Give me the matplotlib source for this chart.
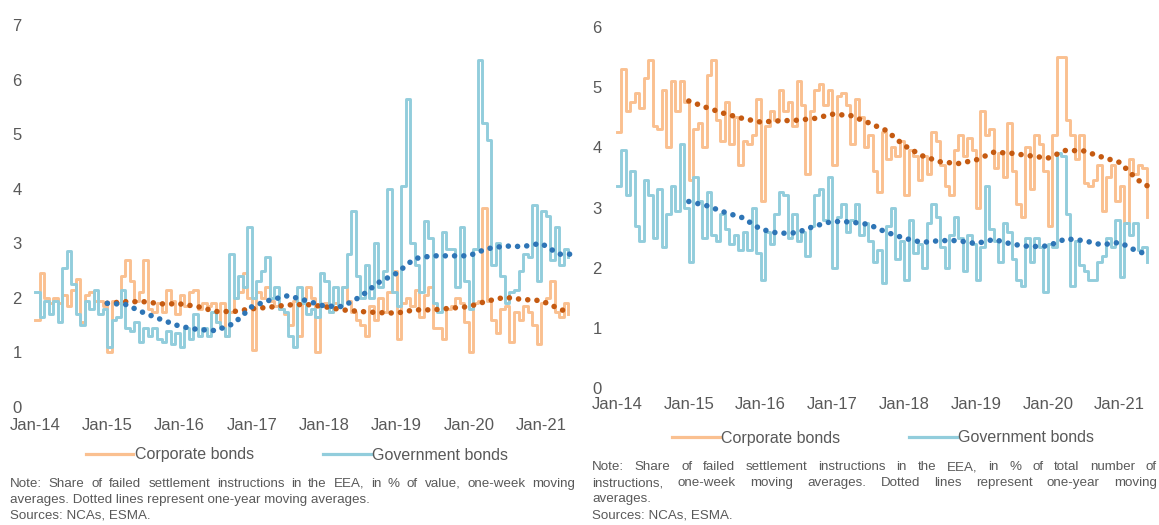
import numpy as np
import matplotlib.pyplot as plt
from matplotlib.lines import Line2D

plt.rcParams['font.family'] = ['Liberation Sans', 'DejaVu Sans']

W, H = 1159, 525

TICK_LABELS = ['Jan-14', 'Jan-15', 'Jan-16', 'Jan-17', 'Jan-18', 'Jan-19', 'Jan-20', 'Jan-21']
STEP = 1 / 16  # years between two readings of the one-week series

# left panel: % of value
corp_value = [1.6, 2.45, 2.0, 1.9, 2.0, 1.9, 2.05, 1.85, 2.15, 2.35,
              1.55, 2.05, 2.1, 1.95, 1.95, 1.85, 1.0, 1.95, 1.9, 2.4,
              2.7, 2.3, 1.95, 2.1, 2.7, 1.8, 1.75, 1.9, 1.75, 2.15,
              1.95, 1.7, 2.05, 1.85, 2.1, 2.15, 1.8, 1.9, 1.85, 1.9,
              1.55, 1.9, 1.3, 1.75, 2.0, 2.1, 2.45, 2.0, 1.05, 2.1,
              2.0, 2.2, 1.95, 1.85, 1.8, 1.7, 1.5, 1.95, 1.3, 2.0,
              2.2, 2.0, 1.0, 1.85, 1.9, 1.75, 1.9, 1.85, 2.2, 1.95,
              1.75, 1.6, 1.5, 1.3, 1.85, 1.6, 2.0, 1.75, 2.1, 2.5,
              1.25, 1.9, 2.0, 1.85, 2.15, 1.65, 2.05, 2.2, 1.45, 1.45,
              1.25, 1.8, 1.85, 2.0, 1.9, 1.55, 1.0, 1.9, 1.95, 3.65,
              1.95, 1.6, 1.35, 1.8, 1.85, 1.2, 1.75, 1.6, 1.85, 1.75,
              1.5, 1.15, 1.9, 2.0, 2.3, 1.75, 1.65, 1.9, 1.7]
gov_value = [2.1, 1.65, 1.95, 1.7, 1.95, 1.55, 2.55, 2.85, 2.25, 1.7,
             1.5, 1.95, 1.8, 2.15, 1.7, 1.8, 1.1, 1.6, 1.65, 2.15,
             1.45, 1.4, 1.55, 1.2, 1.45, 1.3, 1.45, 1.25, 1.2, 1.4,
             1.15, 1.35, 1.1, 1.45, 1.25, 1.7, 1.3, 1.45, 1.3, 1.75,
             1.55, 1.45, 1.3, 2.8, 2.0, 2.4, 2.2, 3.3, 2.0, 2.3,
             2.5, 2.75, 2.0, 2.2, 1.8, 1.75, 1.3, 1.1, 2.2, 1.9,
             1.7, 1.8, 1.65, 2.45, 2.3, 1.75, 2.2, 1.85, 2.2, 2.8,
             3.6, 2.4, 2.0, 2.6, 2.0, 3.0, 2.2, 2.5, 4.0, 2.1,
             1.85, 4.05, 5.65, 3.0, 2.6, 2.1, 3.4, 3.1, 1.9, 1.75,
             3.2, 2.9, 2.9, 2.2, 3.3, 2.3, 1.8, 2.9, 6.35, 5.2,
             4.9, 2.6, 3.0, 2.4, 1.9, 2.1, 2.15, 2.5, 2.8, 2.75,
             3.7, 2.3, 3.6, 3.5, 2.7, 3.3, 2.6, 2.9, 2.75]

# right panel: % of number of instructions
corp_count = [4.25, 5.3, 4.6, 4.75, 4.9, 4.65, 5.15, 5.45, 4.35, 4.3,
              4.95, 4.0, 5.1, 4.6, 5.1, 4.75, 3.45, 4.3, 4.4, 4.0,
              5.2, 5.45, 4.45, 4.1, 4.75, 4.05, 4.5, 3.7, 4.1, 4.05,
              4.2, 4.8, 3.1, 4.35, 4.6, 4.45, 4.95, 4.6, 4.75, 4.35,
              5.1, 4.7, 3.55, 4.6, 4.95, 5.05, 4.7, 4.95, 3.7, 4.85,
              4.9, 4.7, 4.05, 4.8, 4.5, 4.0, 4.2, 3.6, 3.25, 4.25,
              3.8, 4.0, 3.85, 4.1, 3.2, 3.95, 3.85, 3.45, 3.85, 3.55,
              4.25, 4.1, 3.7, 3.35, 3.2, 3.95, 4.2, 3.85, 4.15, 3.95,
              3.0, 4.6, 4.2, 4.3, 3.65, 3.9, 3.5, 4.4, 3.6, 3.05,
              2.85, 4.0, 3.3, 4.2, 4.05, 3.6, 2.7, 4.2, 5.5, 5.5,
              4.45, 4.2, 3.8, 4.2, 3.4, 3.35, 3.45, 3.7, 2.95, 3.5,
              3.7, 3.1, 3.35, 2.75, 3.8, 3.55, 3.7, 3.65, 2.85]
gov_count = [3.35, 3.95, 3.2, 3.6, 2.7, 2.45, 3.45, 3.2, 2.5, 3.3,
             2.35, 2.9, 3.35, 2.95, 4.05, 3.0, 2.1, 3.5, 3.1, 2.5,
             3.25, 2.55, 2.45, 2.9, 2.65, 2.4, 2.55, 2.3, 2.6, 2.3,
             3.0, 2.25, 1.8, 2.6, 2.4, 2.9, 3.25, 3.2, 2.5, 2.9,
             2.45, 2.6, 2.2, 2.7, 3.2, 3.3, 2.8, 3.5, 2.0, 2.85,
             3.05, 2.6, 2.8, 3.05, 2.55, 2.75, 2.45, 2.1, 2.3, 1.75,
             2.7, 3.0, 2.15, 2.45, 1.8, 2.8, 2.25, 2.4, 2.0, 2.75,
             3.05, 2.85, 2.35, 2.0, 2.55, 2.85, 2.5, 1.95, 2.55, 2.4,
             1.8, 2.35, 3.35, 2.65, 2.45, 2.1, 2.75, 2.6, 2.15, 1.8,
             1.7, 2.5, 2.1, 2.5, 2.35, 1.6, 2.4, 2.35, 3.9, 3.85,
             2.9, 1.7, 2.45, 2.05, 1.95, 1.8, 1.8, 2.1, 2.2, 2.5,
             2.35, 2.8, 1.85, 2.75, 2.55, 2.75, 2.3, 2.35, 2.1]

# one-year moving averages, quarterly readings from Jan-15
ma_years = np.append(np.arange(1.0, 7.3, 0.25), 7.4)
corp_value_ma = [1.9, 1.93, 1.93, 1.89, 1.89, 1.84, 1.75, 1.75, 1.8, 1.83,
                 1.87, 1.88, 1.84, 1.78, 1.75, 1.73, 1.72, 1.78, 1.78, 1.81,
                 1.84, 1.94, 2.01, 1.97, 1.95, 1.8, 1.72]
gov_value_ma = [1.9, 1.88, 1.73, 1.6, 1.48, 1.42, 1.4, 1.53, 1.84, 1.96,
                2.04, 1.95, 1.85, 1.84, 2.02, 2.28, 2.45, 2.72, 2.77, 2.77,
                2.77, 2.9, 2.95, 2.94, 3.0, 2.8, 2.8]
corp_count_ma = [4.77, 4.66, 4.56, 4.48, 4.42, 4.44, 4.45, 4.48, 4.55, 4.53,
                 4.41, 4.28, 4.03, 3.86, 3.76, 3.73, 3.79, 3.92, 3.9, 3.86,
                 3.82, 3.95, 3.94, 3.84, 3.75, 3.46, 3.35]
gov_count_ma = [3.1, 3.03, 2.92, 2.83, 2.64, 2.57, 2.58, 2.69, 2.77, 2.76,
                2.72, 2.59, 2.49, 2.42, 2.45, 2.45, 2.4, 2.47, 2.39, 2.35,
                2.36, 2.48, 2.45, 2.38, 2.42, 2.27, 2.22]

CORP, GOV = '#FAC090', '#92CDDC'
CORP_MA, GOV_MA = '#C55A11', '#2E75B6'
GREY = '#595959'

fig = plt.figure(figsize=(W / 100, H / 100), dpi=100)


def px_axes(left, top, right, bottom):
    return fig.add_axes([left / W, 1 - bottom / H, (right - left) / W, (bottom - top) / H])


def draw_panel(ax, corp, gov, corp_ma, gov_ma, ymax, xlim, ypad, xpad):
    t = np.arange(len(corp)) * STEP
    ax.plot(t, corp, drawstyle='steps-post', color=CORP, lw=2.1, zorder=2)
    ax.plot(t, gov, drawstyle='steps-post', color=GOV, lw=2.1, zorder=3)
    for vals, col in ((corp_ma, CORP_MA), (gov_ma, GOV_MA)):
        ax.plot(ma_years, vals, color=col, lw=4.0, linestyle=(0, (0.01, 1.65)),
                dash_capstyle='round', zorder=4)
    ax.set_xlim(*xlim)
    ax.set_ylim(0, ymax)
    ax.set_xticks(range(len(TICK_LABELS)))
    ax.set_xticklabels(TICK_LABELS)
    ax.set_yticks(range(ymax + 1))
    ax.tick_params(axis='both', length=0, labelsize=12, colors=GREY)
    ax.tick_params(axis='y', pad=ypad)
    ax.tick_params(axis='x', pad=xpad)
    for s in ax.spines.values():
        s.set_visible(False)


ax1 = px_axes(30, 25, 575, 407)
draw_panel(ax1, corp_value, gov_value, corp_value_ma, gov_value_ma, 7,
           (-5 / 72.3, 540 / 72.3), 6, 8)
ax2 = px_axes(612, 27, 1153, 388)
draw_panel(ax2, corp_count, gov_count, corp_count_ma, gov_count_ma, 6,
           (-5 / 71.8, 536 / 71.8), 7.5, 6.5)

handles = [Line2D([], [], color=CORP, lw=2.3), Line2D([], [], color=GOV, lw=2.3)]
labels = ['Corporate bonds', 'Government bonds']
for cx, cy in ((297, 455), (883, 438)):
    fig.legend(handles, labels, loc='center', bbox_to_anchor=(cx / W, 1 - cy / H),
               ncol=2, frameon=False, fontsize=11.5, labelcolor=GREY,
               handlelength=3.0, handletextpad=0.1, columnspacing=4.3)

renderer = fig.canvas.get_renderer()
NOTE = dict(fontsize=9.6, color=GREY, va='baseline')


def note_line(text, x0, y, x1=None):
    yb = 1 - (y + 4) / H  # y is the middle of the line, text sits on its baseline
    if x1 is None:
        fig.text(x0 / W, yb, text, **NOTE)
        return
    # spread the words over the full width, like a justified paragraph
    words = text.split()
    items = [fig.text(0, yb, w, **NOTE) for w in words]
    widths = [t.get_window_extent(renderer).width for t in items]
    gap = (x1 - x0 - sum(widths)) / (len(words) - 1)
    x = x0
    for t, w in zip(items, widths):
        t.set_x(x / W)
        x += w + gap


note_line('Note: Share of failed settlement instructions in the EEA, in % of value, '
          'one-week moving', 10, 483, 575)
note_line('averages. Dotted lines represent one-year moving averages.', 10, 499)
note_line('Sources: NCAs, ESMA.', 10, 515)

note_line('Note: Share of failed settlement instructions in the EEA, in % of total '
          'number of', 592, 466, 1157)
note_line('instructions, one-week moving averages. Dotted lines represent one-year '
          'moving', 592, 482, 1157)
note_line('averages.', 592, 498)
note_line('Sources: NCAs, ESMA.', 592, 515)

fig.savefig('out.png', dpi=100)
